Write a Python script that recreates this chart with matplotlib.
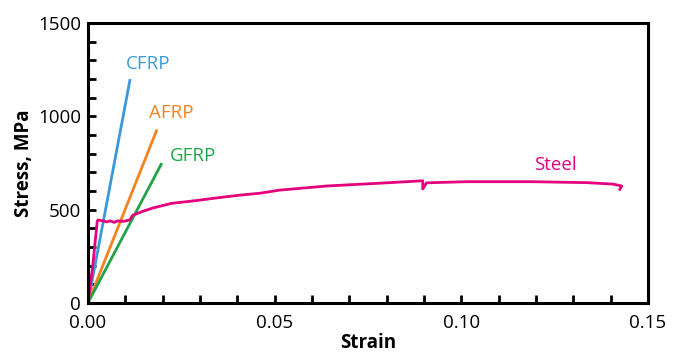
import matplotlib.pyplot as plt
from matplotlib.ticker import MultipleLocator

# fibre-reinforced polymers: linear to failure
cfrp_strain = [0.0, 0.0113]
cfrp_stress = [0, 1200]
afrp_strain = [0.0, 0.0185]
afrp_stress = [0, 930]
gfrp_strain = [0.0, 0.0198]
gfrp_stress = [0, 750]

# steel curve
steel_strain = [0.0, 0.0013, 0.0025, 0.0027, 0.004, 0.005, 0.006, 0.007, 0.008,
                0.0095, 0.0112, 0.012, 0.0144, 0.0174, 0.0224, 0.0287, 0.0348,
                0.0412, 0.046, 0.0514, 0.064, 0.0773, 0.0897, 0.0897, 0.0907,
                0.1014, 0.1192, 0.1336, 0.1407, 0.143, 0.1425]
steel_stress = [0, 200, 440, 445, 440, 435, 440, 432, 440,
                437, 445, 470, 489, 509, 534, 548, 564,
                579, 588, 605, 627, 641, 655, 611, 644,
                650, 650, 645, 637, 627, 609]

c_cfrp = '#3a9ad9'
c_afrp = '#f58220'
c_gfrp = '#22a34a'
c_steel = '#e5007e'

plt.rcParams['font.family'] = ['Open Sans', 'DejaVu Sans']

dpi = 100
fig = plt.figure(figsize=(687 / dpi, 356 / dpi), dpi=dpi)
ax = fig.add_axes([0.128, 0.149, 0.815, 0.786])

lw = 2.0
ax.plot(cfrp_strain, cfrp_stress, color=c_cfrp, lw=lw, solid_capstyle='butt')
ax.plot(afrp_strain, afrp_stress, color=c_afrp, lw=lw, solid_capstyle='butt')
ax.plot(gfrp_strain, gfrp_stress, color=c_gfrp, lw=lw, solid_capstyle='butt')
ax.plot(steel_strain, steel_stress, color=c_steel, lw=lw, solid_joinstyle='round')

fs = 13.5
ax.text(0.0161, 1280, 'CFRP', color=c_cfrp, fontsize=fs, ha='center', va='center')
ax.text(0.0222, 1018, 'AFRP', color=c_afrp, fontsize=fs, ha='center', va='center')
ax.text(0.0281, 788, 'GFRP', color=c_gfrp, fontsize=fs, ha='center', va='center')
ax.text(0.1251, 739, 'Steel', color=c_steel, fontsize=fs, ha='center', va='center')

ax.set_xlim(0, 0.15)
ax.set_ylim(0, 1500)
ax.xaxis.set_major_locator(MultipleLocator(0.05))
ax.xaxis.set_minor_locator(MultipleLocator(0.01))
ax.yaxis.set_major_locator(MultipleLocator(500))
ax.yaxis.set_minor_locator(MultipleLocator(100))
ax.xaxis.set_major_formatter(plt.FormatStrFormatter('%.2f'))

ax.tick_params(which='both', direction='in', length=6, width=2, labelsize=fs)
ax.tick_params(axis='x', which='major', pad=8)
ax.tick_params(axis='y', which='major', pad=5)
for s in ax.spines.values():
    s.set_linewidth(2.2)

ax.set_xlabel('Strain', fontsize=fs, fontweight='bold', labelpad=1)
ax.set_ylabel('Stress, MPa', fontsize=fs, fontweight='bold', labelpad=3)

fig.savefig('out.png', dpi=dpi)
